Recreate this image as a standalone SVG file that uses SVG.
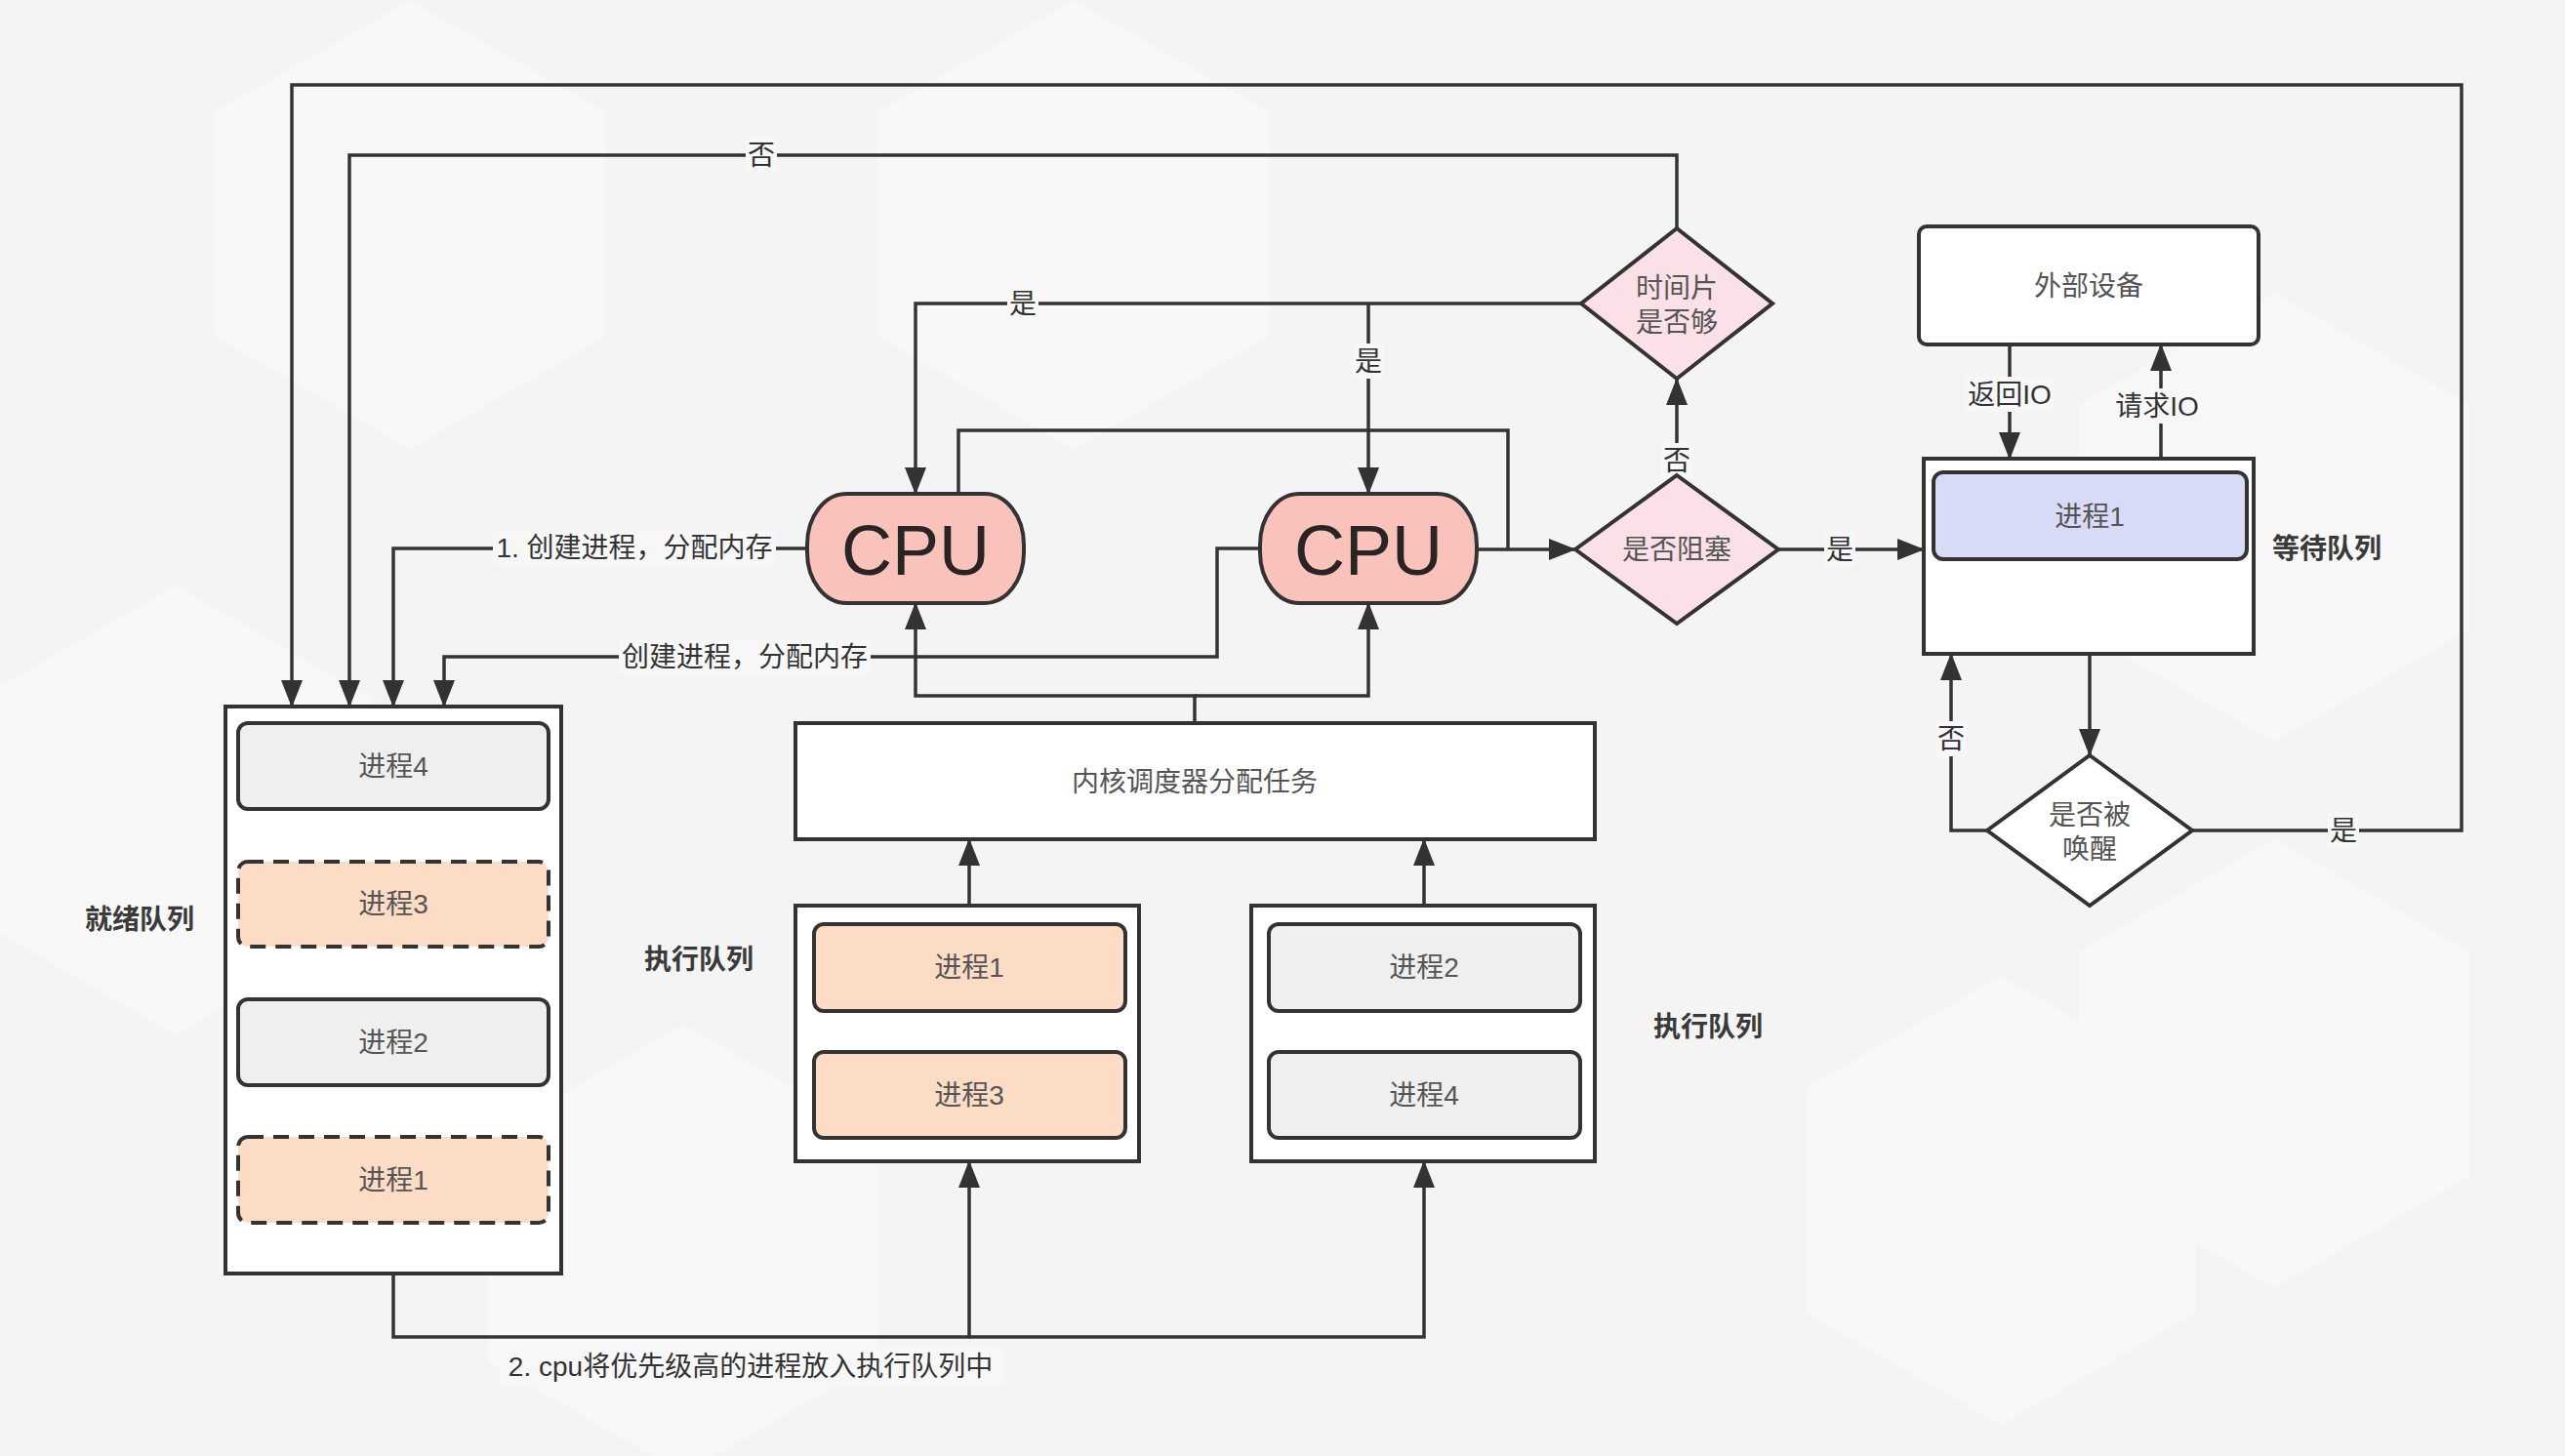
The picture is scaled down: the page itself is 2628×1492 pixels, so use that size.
<svg xmlns="http://www.w3.org/2000/svg" width="2628" height="1492" viewBox="0 0 2628 1492">
<defs>
<marker id="arr" markerUnits="userSpaceOnUse" markerWidth="28" markerHeight="22" refX="27" refY="11" orient="auto">
<path d="M0,0 L28,11 L0,22 z" fill="#333"/>
</marker>
<style>
text{font-family:"Liberation Sans","Noto Sans CJK SC",sans-serif;text-anchor:middle;dominant-baseline:central}
.n{font-size:28px;fill:#555}
.h{font-size:28px;font-weight:bold;fill:#3a3a3a}
.lbl{font-size:28px;fill:#333}
.lb{fill:#f7f7f7}
.cpu{font-size:72px;fill:#2a2424}
.ln{fill:none;stroke:#333;stroke-width:3.5}
.ar{fill:none;stroke:#333;stroke-width:3.5;marker-end:url(#arr)}
.box{fill:#fff;stroke:#333;stroke-width:4}
.gray{fill:#efefef;stroke:#333;stroke-width:4}
.peach{fill:#fcdcc5;stroke:#333;stroke-width:4}
.dash{fill:#fcdcc5;stroke:#333;stroke-width:4;stroke-dasharray:16 10}
.blue{fill:#d7dbf6;stroke:#333;stroke-width:4}
.pink{fill:#fbe0e8;stroke:#333;stroke-width:4}
.cpuf{fill:#f9c2bb;stroke:#333;stroke-width:4}
</style>
</defs>
<rect x="0" y="0" width="2628" height="1492" fill="#f4f4f4"/>
<g id="bg" fill="#f8f8f8">
<polygon points="420,0 620,115 620,345 420,460 220,345 220,115"/>
<polygon points="1100,0 1300,115 1300,345 1100,460 900,345 900,115"/>
<polygon points="2330,300 2530,415 2530,645 2330,760 2130,645 2130,415"/>
<polygon points="2330,860 2530,975 2530,1205 2330,1320 2130,1205 2130,975"/>
<polygon points="2050,1000 2250,1115 2250,1345 2050,1460 1850,1345 1850,1115"/>
<polygon points="180,600 380,715 380,945 180,1060 -20,945 -20,715"/>
<polygon points="700,1050 900,1165 900,1395 700,1510 500,1395 500,1165"/>
</g>

<g id="connectors">
<path class="ar" d="M2246,851 H2522 V87 H299 V724"/>
<path class="ar" d="M1718,234 V159 H358 V724"/>
<path class="ar" d="M827,562 H403 V724"/>
<path class="ar" d="M1291,562 H1247 V673 H455 V724"/>
<path class="ar" d="M1620,311 H938 V506"/>
<path class="ar" d="M1402,311 V506"/>
<path class="ln" d="M982,506 V441 H1545 V563"/>
<path class="ar" d="M1513,563 H1614"/>
<path class="ar" d="M1718,487 V388"/>
<path class="ar" d="M1822,563 H1971"/>
<path class="ar" d="M2059,353 V470"/>
<path class="ar" d="M2214,470 V353"/>
<path class="ar" d="M2141,670 V774"/>
<path class="ar" d="M2036,851 H1999 V670"/>
<path class="ar" d="M1224,741 V713 H938 V618"/>
<path class="ar" d="M1224,713 H1402 V618"/>
<path class="ar" d="M993,928 V860"/>
<path class="ar" d="M1459,928 V860"/>
<path class="ar" d="M403,1305 V1370 H993 V1190"/>
<path class="ar" d="M993,1370 H1459 V1190"/>
<path class="ar" d="M403,829 V883"/>
<path class="ar" d="M403,970 V1024"/>
<path class="ar" d="M403,1112 V1165"/>
<path class="ar" d="M993,1078 V1036"/>
<path class="ar" d="M1459,1078 V1036"/>
<g id="labels">
<rect class="lb" x="764" y="141" width="32" height="36"/><text class="lbl" x="780" y="159">否</text>
<rect class="lb" x="1032" y="293" width="32" height="36"/><text class="lbl" x="1048" y="311">是</text>
<rect class="lb" x="1386" y="352" width="32" height="36"/><text class="lbl" x="1402" y="370">是</text>
<rect class="lb" x="1702" y="454" width="32" height="36"/><text class="lbl" x="1718" y="472">否</text>
<rect class="lb" x="1869" y="545" width="32" height="36"/><text class="lbl" x="1885" y="563">是</text>
<rect class="lb" x="505" y="543" width="290" height="36"/><text class="lbl" x="650" y="561">1. 创建进程，分配内存</text>
<rect class="lb" x="634" y="655" width="258" height="36"/><text class="lbl" x="763" y="673">创建进程，分配内存</text>
<rect class="lb" x="2013" y="386" width="92" height="36"/><text class="lbl" x="2059" y="404">返回IO</text>
<rect class="lb" x="2164" y="398" width="92" height="36"/><text class="lbl" x="2210" y="416">请求IO</text>
<rect class="lb" x="1983" y="739" width="32" height="36"/><text class="lbl" x="1999" y="757">否</text>
<rect class="lb" x="2385" y="833" width="32" height="36"/><text class="lbl" x="2401" y="851">是</text>
<rect class="lb" x="511" y="1382" width="518" height="38"/><text class="lbl" x="769" y="1400">2. cpu将优先级高的进程放入执行队列中</text>
</g>
</g>

<g id="ready-queue">
<rect class="box" x="231" y="724" width="344" height="581"/>
<text class="h" x="143" y="942">就绪队列</text>
</g>
<g id="ready-p4"><rect class="gray" x="244" y="741" width="318" height="88" rx="10"/><text class="n" x="403" y="785">进程4</text></g>
<g id="ready-p3"><rect class="dash" x="244" y="883" width="318" height="87" rx="10"/><text class="n" x="403" y="926">进程3</text></g>
<g id="ready-p2"><rect class="gray" x="244" y="1024" width="318" height="88" rx="10"/><text class="n" x="403" y="1068">进程2</text></g>
<g id="ready-p1"><rect class="dash" x="244" y="1165" width="318" height="88" rx="10"/><text class="n" x="403" y="1209">进程1</text></g>

<g id="exec-queue-1">
<rect class="box" x="815" y="928" width="352" height="262"/>
<text class="h" x="716" y="983">执行队列</text>
</g>
<g id="exec1-p1"><rect class="peach" x="834" y="947" width="319" height="89" rx="10"/><text class="n" x="993" y="991">进程1</text></g>
<g id="exec1-p3"><rect class="peach" x="834" y="1078" width="319" height="88" rx="10"/><text class="n" x="993" y="1122">进程3</text></g>

<g id="exec-queue-2">
<rect class="box" x="1282" y="928" width="352" height="262"/>
<text class="h" x="1750" y="1052">执行队列</text>
</g>
<g id="exec2-p2"><rect class="gray" x="1300" y="947" width="319" height="89" rx="10"/><text class="n" x="1459" y="991">进程2</text></g>
<g id="exec2-p4"><rect class="gray" x="1300" y="1078" width="319" height="88" rx="10"/><text class="n" x="1459" y="1122">进程4</text></g>

<g id="scheduler"><rect class="box" x="815" y="741" width="819" height="119"/><text class="n" x="1224" y="801">内核调度器分配任务</text></g>

<g id="cpu1"><rect class="cpuf" x="827" y="506" width="222" height="112" rx="40" ry="52"/><text class="cpu" x="938" y="564">CPU</text></g>
<g id="cpu2"><rect class="cpuf" x="1291" y="506" width="222" height="112" rx="40" ry="52"/><text class="cpu" x="1402" y="564">CPU</text></g>

<g id="timeslice"><polygon class="pink" points="1718,234 1816,311 1718,388 1620,311"/><text class="n" x="1718" y="295">时间片</text><text class="n" x="1718" y="330">是否够</text></g>
<g id="blocked"><polygon class="pink" points="1718,487 1822,563 1718,639 1614,563"/><text class="n" x="1718" y="563">是否阻塞</text></g>

<g id="device"><rect class="box" x="1966" y="232" width="348" height="121" rx="8"/><text class="n" x="2140" y="293">外部设备</text></g>

<g id="wait-queue">
<rect class="box" x="1971" y="470" width="338" height="200"/>
<text class="h" x="2384" y="562">等待队列</text>
</g>
<g id="wait-p1"><rect class="blue" x="1981" y="484" width="321" height="89" rx="10"/><text class="n" x="2141" y="529">进程1</text></g>

<g id="wakeup"><polygon class="box" points="2141,774 2246,851 2141,928 2036,851"/><text class="n" x="2141" y="835">是否被</text><text class="n" x="2141" y="870">唤醒</text></g>
</svg>
